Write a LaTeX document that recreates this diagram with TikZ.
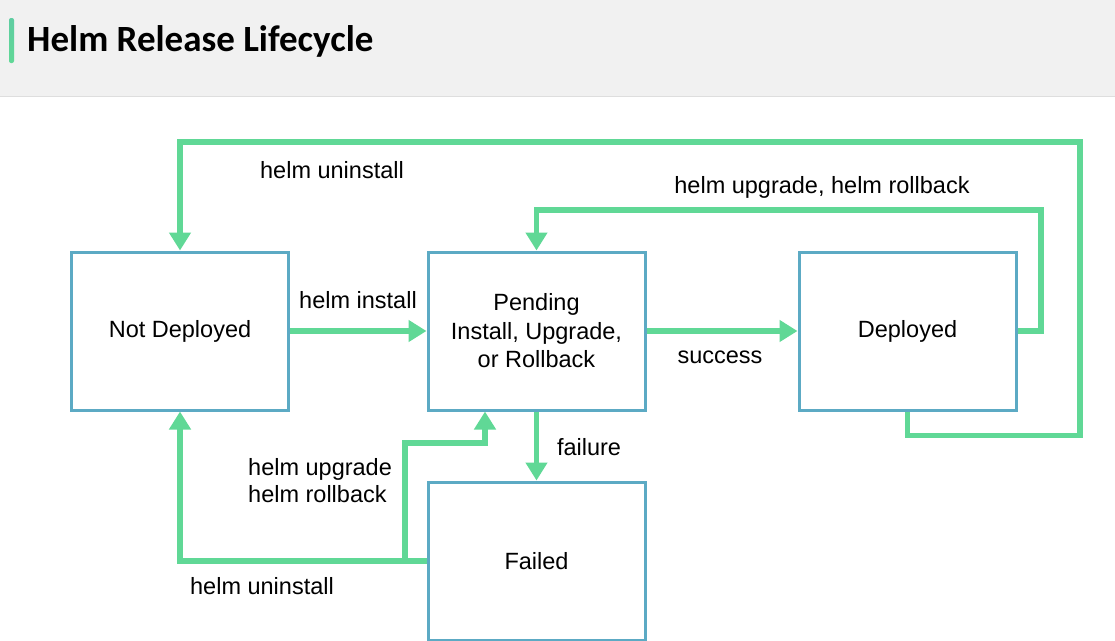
\documentclass[tikz,border=0pt]{standalone}
\usepackage{fontspec}
\setmainfont{Liberation Sans}
\newfontfamily\titlefont{Carlito}
\usetikzlibrary{arrows.meta,calc}
\definecolor{flowgreen}{RGB}{96,216,150}
\definecolor{boxblue}{RGB}{92,170,196}
\definecolor{headgray}{RGB}{241,241,241}
\definecolor{headline}{RGB}{222,222,222}
\begin{document}
\begin{tikzpicture}[x=1pt,y=1pt,
  state/.style={draw=boxblue,line width=3pt,fill=white,minimum width=217pt,minimum height=158pt,
    inner sep=0pt,align=center,font=\fontsize{23.5}{28.5}\selectfont},
  flow/.style={draw=flowgreen,line width=5.5pt,line cap=butt,line join=miter,
    -{Triangle[length=18pt,width=21pt]}},
  lbl/.style={font=\fontsize{23.5}{27}\selectfont,inner sep=0pt,align=left}]
\useasboundingbox (0,0) rectangle (1115,-640);
% header
\fill[headgray] (0,0) rectangle (1115,-96);
\draw[headline,line width=1.5pt] (0,-96.5) -- (1115,-96.5);
\shade[top color=flowgreen!75!boxblue,bottom color=flowgreen,rounded corners=2pt] (9,-18) rectangle (14,-63);
\node[anchor=base west,inner sep=0pt,font=\titlefont\bfseries\fontsize{37}{40}\selectfont] (title) at (27,-51) {Helm Release Lifecycle};
% states
\node[state] (nd) at (180,-331) {Not Deployed};
\node[state] (pend) at (536.5,-331) {Pending\\Install, Upgrade,\\or Rollback};
\node[state] (dep) at (907.5,-331) {Deployed};
\node[state] (fail) at (536.5,-561) {Failed};
% connectors
\draw[flow] (dep.south) -- ++(0,-24) -| (1080,-142) -| (nd.north);
\draw[flow] (dep.east) -| (1041,-210) -| (pend.north);
\draw[flow] (nd.east) -- (pend.west);
\draw[flow] (pend.east) -- (dep.west);
\draw[flow] (pend.south) -- (fail.north);
\draw[flow] (fail.west) -| (nd.south);
\coordinate (jn) at (405,-561);
\coordinate (jk) at (485,-443);
\draw[flow] (jn) |- (jk) -- (pend.south -| jk);
% labels
\node[lbl] (l1) at (332,-170) {helm uninstall};
\node[lbl] (l2) at (822,-187) {helm upgrade, helm rollback};
\node[lbl] (l3) at (358,-300) {helm install};
\node[lbl] (l4) at (720,-357) {success};
\node[lbl] (l5) at (589,-447) {failure};
\node[lbl,anchor=west] (l6) at (248,-480.5) {helm upgrade\\helm rollback};
\node[lbl] (l7) at (262,-586) {helm uninstall};
\end{tikzpicture}
\end{document}
